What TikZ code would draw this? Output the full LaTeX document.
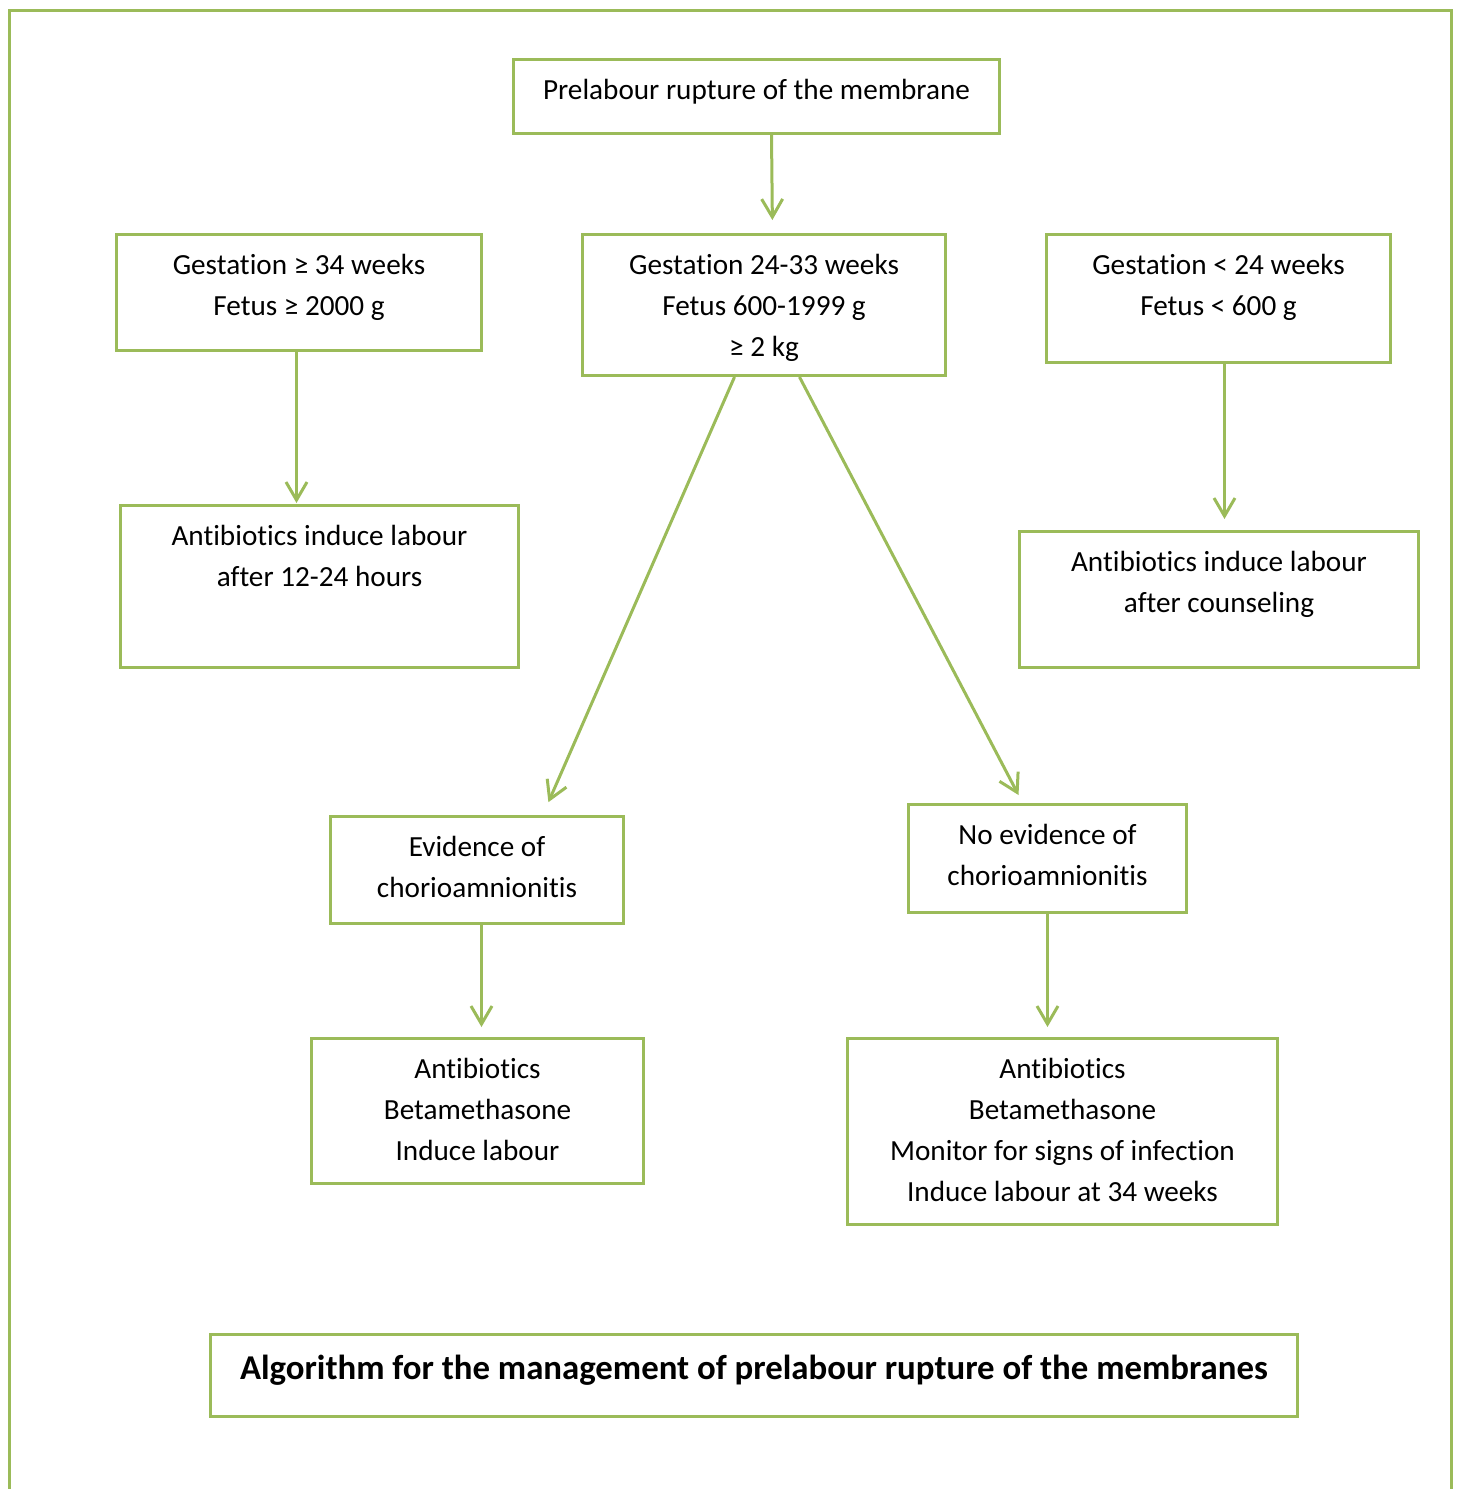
\documentclass[tikz,border=0pt]{standalone}
\usepackage{fontspec}
\setmainfont{Carlito}[Ligatures=NoCommon]
\usepackage{tikz}
\usetikzlibrary{arrows.meta, positioning}
\definecolor{grn}{RGB}{155,187,89}
\newcommand{\cellbox}[4][5.6pt]{\parbox[c][#3][t]{#2}{\centering\vspace*{#1}\strut #4}}

\begin{document}
\begin{tikzpicture}[x=0.5pt, y=-0.5pt]

	\tikzstyle{box}=[draw=grn, line width=1.5pt, inner sep=0pt, anchor=north west, font=\fontsize{14.6pt}{20.5pt}\selectfont]
	\tikzstyle{title}=[box, font=\fontsize{17.4pt}{24pt}\selectfont\bfseries]
	\tikzstyle{arr}=[draw=grn, line width=1.5pt, -{Straight Barb[length=9pt,width=10.5pt]}]
	\tikzstyle{frame}=[draw=grn, line width=1.5pt]

	\useasboundingbox (0,0) rectangle (1459,1489);
	\draw[frame] (9,1489) -- (9,10) -- (1451,10) -- (1451,1489);

	% placement des boites
	\node[box] (b0) at (512,58) {\cellbox{243pt}{37pt}{Prelabour rupture of the membrane}};
	\node[box] (b1) at (115,233) {\cellbox{182.5pt}{58pt}{Gestation ≥ 34 weeks\\Fetus ≥ 2000 g}};
	\node[box] (b2) at (581,233) {\cellbox{181.5pt}{70.5pt}{Gestation 24-33 weeks\\Fetus 600-1999 g\\≥ 2 kg}};
	\node[box] (b3) at (1045,233) {\cellbox{172pt}{64pt}{Gestation < 24 weeks\\Fetus < 600 g}};
	\node[box] (b4) at (119,504) {\cellbox{199pt}{81pt}{Antibiotics induce labour\\after 12-24 hours}};
	\node[box] (b5) at (1018,530) {\cellbox{199.5pt}{68pt}{Antibiotics induce labour\\after counseling}};
	\node[box] (b6) at (329,815) {\cellbox{146.5pt}{53.5pt}{Evidence of\\chorioamnionitis}};
	\node[box] (b7) at (907,803) {\cellbox{139pt}{54pt}{No evidence of\\chorioamnionitis}};
	\node[box] (b8) at (310,1037) {\cellbox{166pt}{72.5pt}{Antibiotics\\Betamethasone\\Induce labour}};
	\node[box] (b9) at (846,1037) {\cellbox{215pt}{93pt}{Antibiotics\\Betamethasone\\Monitor for signs of infection\\Induce labour at 34 weeks}};
	\node[title] (b10) at (209,1333) {\cellbox[5.8pt]{543.5pt}{41pt}{Algorithm for the management of prelabour rupture of the membranes}};

	% fleches
	\draw[arr, shorten >=6.5pt] ([xshift=7.5pt]b0.south) -- ([xshift=4.25pt]b2.north);
	\draw[arr, shorten >=0.5pt] ([xshift=-1.25pt]b1.south) -- ([xshift=-11.5pt]b4.north);
	\draw[arr, shorten >=7pt] ([xshift=-14.75pt]b2.south) -- ([xshift=32.9pt]b6.north);
	\draw[arr, shorten >=4.5pt] ([xshift=17.75pt]b2.south) -- ([xshift=-12.4pt]b7.north);
	\draw[arr, shorten >=5.5pt] ([xshift=3pt]b3.south) -- ([xshift=2.75pt]b5.north);
	\draw[arr, shorten >=5pt] ([xshift=2.25pt]b6.south) -- ([xshift=2pt]b8.north);
	\draw[arr, shorten >=5pt] (b7.south) -- ([xshift=-7.5pt]b9.north);

\end{tikzpicture}
\end{document}
